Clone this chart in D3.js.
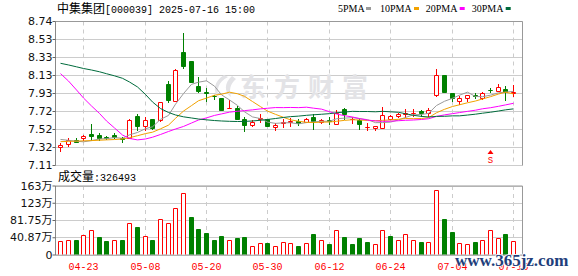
<!DOCTYPE html>
<meta charset="utf-8">
<script src="https://d3js.org/d3.v7.min.js"></script>
<style>
  body { margin: 0; background: #fff; }
  svg { display: block; }
</style>
<body>
<div id="vis"></div>
<script>
// trading days on the chart
var dates = ["04-18","04-21","04-22","04-23","04-24","04-25","04-28","04-29","04-30","05-06",
  "05-07","05-08","05-09","05-12","05-13","05-14","05-15","05-16","05-19","05-20",
  "05-21","05-22","05-23","05-26","05-27","05-28","05-29","05-30","06-03","06-04",
  "06-05","06-06","06-09","06-10","06-11","06-12","06-13","06-16","06-17","06-18",
  "06-19","06-20","06-23","06-24","06-25","06-26","06-27","06-30","07-01","07-02",
  "07-03","07-04","07-07","07-08","07-09","07-10","07-11","07-14","07-15","07-16"];

var opens = [7.315, 7.353, 7.391, 7.41, 7.466, 7.447, 7.429, 7.455, 7.41, 7.413,
  7.67, 7.557, 7.633, 7.625, 8.029, 7.837, 8.391, 8.285, 8.002, 7.934,
  7.896, 7.863, 7.755, 7.757, 7.636, 7.56, 7.636, 7.633, 7.538, 7.58,
  7.60, 7.606, 7.599, 7.651, 7.594, 7.614, 7.575, 7.74, 7.63, 7.625,
  7.54, 7.53, 7.53, 7.633, 7.67, 7.69, 7.697, 7.72, 7.70, 7.897,
  8.134, 7.927, 7.832, 7.863, 7.897, 7.871, 7.96, 7.95, 7.972, 7.92];
var highs = [7.365, 7.418, 7.425, 7.452, 7.58, 7.475, 7.447, 7.475, 7.43, 7.64,
  7.693, 7.66, 7.64, 7.829, 8.063, 8.206, 8.613, 8.296, 8.115, 7.984,
  7.908, 7.877, 7.853, 7.783, 7.662, 7.625, 7.69, 7.64, 7.587, 7.633,
  7.647, 7.633, 7.644, 7.69, 7.633, 7.654, 7.735, 7.765, 7.655, 7.645,
  7.588, 7.557, 7.775, 7.68, 7.708, 7.75, 7.75, 7.74, 7.758, 8.199,
  8.134, 7.934, 7.897, 7.904, 7.927, 7.945, 7.984, 8.029, 8.01, 8.02];
var lows = [7.26, 7.323, 7.361, 7.39, 7.39, 7.39, 7.40, 7.41, 7.37, 7.407,
  7.504, 7.504, 7.512, 7.602, 7.814, 7.829, 8.206, 8.04, 7.934, 7.832,
  7.851, 7.73, 7.75, 7.625, 7.493, 7.549, 7.594, 7.542, 7.50, 7.531,
  7.55, 7.557, 7.588, 7.512, 7.58, 7.568, 7.565, 7.625, 7.575, 7.512,
  7.50, 7.50, 7.52, 7.625, 7.652, 7.652, 7.662, 7.662, 7.662, 7.889,
  7.927, 7.832, 7.795, 7.829, 7.86, 7.85, 7.927, 7.942, 7.843, 7.89];
var closes = [7.335, 7.391, 7.368, 7.436, 7.44, 7.421, 7.41, 7.429, 7.40, 7.625,
  7.557, 7.625, 7.531, 7.821, 7.851, 8.191, 8.228, 8.052, 7.945, 7.927,
  7.889, 7.738, 7.76, 7.636, 7.568, 7.599, 7.644, 7.557, 7.568, 7.595,
  7.606, 7.58, 7.633, 7.606, 7.625, 7.61, 7.70, 7.683, 7.633, 7.576,
  7.543, 7.55, 7.68, 7.67, 7.692, 7.695, 7.70, 7.697, 7.73, 8.134,
  7.934, 7.868, 7.87, 7.897, 7.889, 7.927, 7.955, 7.995, 7.939, 7.934];

// moving averages as drawn
var ma5 = [7.405, 7.395, 7.385, 7.378, 7.392, 7.41, 7.414, 7.426, 7.418, 7.457,
  7.484, 7.527, 7.548, 7.632, 7.677, 7.804, 7.924, 8.029, 8.053, 8.069,
  8.008, 7.91, 7.852, 7.79, 7.718, 7.66, 7.641, 7.601, 7.587, 7.593,
  7.594, 7.581, 7.596, 7.604, 7.61, 7.611, 7.639, 7.646, 7.652, 7.641,
  7.629, 7.595, 7.596, 7.601, 7.626, 7.654, 7.684, 7.688, 7.70, 7.789,
  7.837, 7.871, 7.906, 7.94, 7.891, 7.889, 7.906, 7.933, 7.941, 7.949];
var ma10 = [7.38, 7.383, 7.386, 7.389, 7.392, 7.396, 7.40, 7.404, 7.41, 7.425,
  7.447, 7.471, 7.487, 7.525, 7.567, 7.644, 7.726, 7.788, 7.843, 7.873,
  7.906, 7.917, 7.94, 7.922, 7.893, 7.834, 7.776, 7.726, 7.689, 7.655,
  7.627, 7.611, 7.599, 7.596, 7.601, 7.602, 7.61, 7.621, 7.628, 7.625,
  7.62, 7.617, 7.621, 7.626, 7.633, 7.642, 7.64, 7.642, 7.651, 7.707,
  7.746, 7.778, 7.797, 7.82, 7.84, 7.863, 7.889, 7.919, 7.94, 7.92];
var ma20 = [8.15, 8.066, 7.965, 7.874, 7.784, 7.699, 7.614, 7.535, 7.455, 7.416,
  7.40, 7.41, 7.43, 7.461, 7.495, 7.523, 7.552, 7.591, 7.625, 7.649,
  7.677, 7.694, 7.714, 7.724, 7.731, 7.74, 7.751, 7.758, 7.766, 7.765,
  7.767, 7.765, 7.77, 7.759, 7.748, 7.719, 7.693, 7.674, 7.659, 7.641,
  7.624, 7.615, 7.61, 7.611, 7.617, 7.622, 7.625, 7.631, 7.639, 7.666,
  7.683, 7.697, 7.709, 7.723, 7.736, 7.752, 7.764, 7.78, 7.796, 7.814];
var ma30 = [8.267, 8.248, 8.227, 8.208, 8.191, 8.171, 8.149, 8.125, 8.097, 8.055,
  7.999, 7.914, 7.829, 7.755, 7.71, 7.682, 7.661, 7.648, 7.636, 7.627,
  7.619, 7.614, 7.61, 7.608, 7.609, 7.614, 7.622, 7.631, 7.642, 7.654,
  7.663, 7.669, 7.678, 7.684, 7.69, 7.697, 7.707, 7.715, 7.723, 7.721,
  7.721, 7.718, 7.723, 7.718, 7.712, 7.696, 7.678, 7.666, 7.659, 7.666,
  7.667, 7.672, 7.672, 7.681, 7.691, 7.702, 7.713, 7.727, 7.74, 7.751];

// volume (shares) and whether the bar is an up bar
var volumes = [315000, 355000, 340000, 467000, 585000, 403000, 315000, 332000, 340000, 735000,
  640000, 450000, 340000, 830000, 735000, 1110000, 1460000, 900000, 616000, 498000,
  332000, 450000, 355000, 380000, 403000, 213000, 284000, 284000, 213000, 308000,
  284000, 213000, 284000, 474000, 332000, 260000, 569000, 403000, 260000, 380000,
  308000, 237000, 569000, 450000, 355000, 474000, 355000, 308000, 308000, 1517000,
  853000, 528000, 284000, 260000, 308000, 332000, 569000, 380000, 474000, 326493];
var volUp = [1,1,0,1,1,0,0,1,0,1, 0,1,0,1,1,1,1,0,0,0, 0,0,1,0,0,1,1,0,1,1,
  1,0,1,0,1,0,1,0,0,0, 0,1,1,0,1,1,1,0,1,1, 0,0,1,1,0,1,1,1,0,1];

var priceTicks = [7.11, 7.31375, 7.5175, 7.72125, 7.925, 8.12875, 8.3325, 8.53625, 8.74];
var priceLabels = ["7.11", "7.32", "7.52", "7.72", "7.93", "8.13", "8.33", "8.53", "8.74"];
var volTicks = [0, 408750, 817500, 1226250, 1635000];
var volLabels = ["0", "40.87万", "81.75万", "123万", "163万"];
var dateTicks = ["04-23", "05-08", "05-20", "05-30", "06-12", "06-24", "07-04", "07-16"];
var maNames = ["5PMA", "10PMA", "20PMA", "30PMA"];
var signalDate = "07-11";

var red = "#ff0000", green = "#008000";
var maColors = ["#9a9a9a", "#f2a200", "#ff00ff", "#006b3c"];

var width = 578, height = 276;
var left = 55.5, right = 522.5;
var pTop = 21.5, pBottom = 165.5, vTop = 186, vBottom = 255;

var svg = d3.select("#vis").append("svg")
  .attr("width", width)
  .attr("height", height);

var x = d3.scaleBand().domain(dates).range([56.5, 516.7]).paddingInner(0.35).paddingOuter(0.175);
var cx = function(d) { return Math.round(x(d) + x.bandwidth() / 2); };
var y = d3.scaleLinear().domain([7.11, 8.74]).range([pBottom, pTop]);
var yv = d3.scaleLinear().domain([0, 1635000]).range([vBottom, vTop]);
var idx = d3.range(dates.length);

// horizontal grid
svg.append("g").selectAll("line").data(priceTicks).enter().append("line")
  .attr("x1", left).attr("x2", right)
  .attr("y1", function(d) { return Math.round(y(d) - 0.5) + 0.5; })
  .attr("y2", function(d) { return Math.round(y(d) - 0.5) + 0.5; })
  .attr("stroke", "#cccccc");
svg.append("g").selectAll("line").data(volTicks).enter().append("line")
  .attr("x1", left).attr("x2", right)
  .attr("y1", function(d) { return Math.round(yv(d) - 0.5) + 0.5; })
  .attr("y2", function(d) { return Math.round(yv(d) - 0.5) + 0.5; })
  .attr("stroke", "#cccccc");

// vertical dashed grid
[[pTop, pBottom], [vTop, vBottom]].forEach(function(r) {
  svg.append("g").selectAll("line").data(dateTicks).enter().append("line")
    .attr("x1", function(d) { return cx(d) + 0.5; })
    .attr("x2", function(d) { return cx(d) + 0.5; })
    .attr("y1", r[0]).attr("y2", r[1])
    .attr("stroke", "#cccccc")
    .style("stroke-dasharray", "4,4");
});

// frames
var frame = svg.append("g").attr("stroke", "#999999").attr("fill", "none");
frame.append("path").attr("d", "M" + left + "," + pTop + "H" + right + "V" + pBottom);
frame.append("path").attr("d", "M" + left + "," + vTop + "H" + right + "V" + vBottom + "H" + left);

// watermark
var wm = svg.append("g").attr("fill", "#e3e3e6");
wm.append("path").attr("d", "M224,75 C214,81 212,92 219,98 C216,90 218,82 228,77 Z");
wm.append("path").attr("d", "M232,76 C224,83 224,92 231,97 C229,90 230,84 236,79 Z");
wm.append("text")
  .attr("x", 240).attr("y", 97)
  .attr("font-family", "Noto Sans CJK SC")
  .attr("font-weight", "bold")
  .attr("font-size", "26px")
  .attr("letter-spacing", "8px")
  .text("东方财富");

// candles
var bodyPath = function(xc, a, b) {
  var t = Math.round(y(Math.max(a, b)) - 0.5) + 0.5;
  var bt = Math.round(y(Math.min(a, b)) - 0.5) + 0.5;
  return "M" + (xc - 1.5) + "," + t + "H" + (xc + 2.5) + "V" + bt + "H" + (xc - 1.5) + "Z";
};
var candles = svg.append("g").selectAll("g").data(idx).enter().append("g");
candles.append("line")
  .attr("x1", function(i) { return cx(dates[i]) + 0.5; })
  .attr("x2", function(i) { return cx(dates[i]) + 0.5; })
  .attr("y1", function(i) { return Math.round(y(highs[i])); })
  .attr("y2", function(i) { return Math.round(y(lows[i])); })
  .attr("stroke", function(i) { return closes[i] >= opens[i] ? red : green; });
candles.append("path")
  .attr("d", function(i) { return bodyPath(cx(dates[i]), opens[i], closes[i]); })
  .attr("fill", function(i) { return closes[i] >= opens[i] ? "#ffffff" : green; })
  .attr("stroke", function(i) { return closes[i] >= opens[i] ? red : green; });

// moving averages
[ma5, ma10, ma20, ma30].forEach(function(s, k) {
  svg.append("path")
    .datum(s)
    .attr("fill", "none")
    .attr("stroke", maColors[k])
    .attr("stroke-width", 1)
    .attr("d", d3.line()
      .x(function(d, i) { return cx(dates[i]) + 0.5; })
      .y(function(d) { return y(d); }));
});

// signal marker
var sx = cx(signalDate) + 0.5;
svg.append("path").attr("d", "M" + sx + ",150 l-3,4 h6 z").attr("fill", red);
svg.append("text")
  .attr("x", sx).attr("y", 163)
  .attr("text-anchor", "middle")
  .attr("font-family", "Liberation Mono")
  .attr("font-size", "9px")
  .attr("fill", red)
  .text("S");

// volume bars
svg.append("g").selectAll("path").data(idx).enter().append("path")
  .attr("d", function(i) {
    var xc = cx(dates[i]);
    var t = Math.round(yv(volumes[i]) - 0.5) + 0.5;
    return "M" + (xc - 1.5) + "," + (vBottom - 0.5) + "V" + t + "H" + (xc + 2.5) + "V" + (vBottom - 0.5);
  })
  .attr("fill", function(i) { return volUp[i] ? "#ffffff" : green; })
  .attr("stroke", function(i) { return volUp[i] ? red : green; });

// axes
var priceAxis = svg.append("g")
  .attr("transform", "translate(" + left + ",0)")
  .call(d3.axisLeft(y).tickValues(priceTicks)
    .tickFormat(function(d, i) { return priceLabels[i]; })
    .tickSize(3).tickSizeOuter(0).tickPadding(0).offset(0));
var volAxis = svg.append("g")
  .attr("transform", "translate(" + left + ",0)")
  .call(d3.axisLeft(yv).tickValues(volTicks)
    .tickFormat(function(d, i) { return volLabels[i]; })
    .tickSize(3).tickSizeOuter(0).tickPadding(0).offset(0));
[priceAxis, volAxis].forEach(function(a) {
  a.select(".domain").attr("stroke", "#888888");
  a.selectAll(".tick line").attr("stroke", "#666666");
  a.selectAll(".tick text")
    .attr("fill", "#111111")
    .attr("font-family", "DejaVu Sans, Noto Sans CJK SC")
    .attr("font-size", "11px");
});

// date labels
svg.append("g").selectAll("text").data(dateTicks).enter().append("text")
  .attr("x", function(d) { return cx(d) + 0.5; })
  .attr("y", 269.5)
  .attr("text-anchor", "middle")
  .attr("font-family", "Liberation Mono")
  .attr("font-size", "10px")
  .attr("fill", red)
  .text(function(d) { return d; });

// title
var title = svg.append("text").attr("x", 57).attr("y", 12.5).attr("fill", "#000");
title.append("tspan").attr("font-family", "Noto Sans CJK SC").attr("font-size", "12px").text("中集集团");
title.append("tspan").attr("font-family", "Liberation Mono").attr("font-size", "10px").text("[000039] 2025-07-16 15:00");

var volTitle = svg.append("text").attr("x", 58).attr("y", 181).attr("fill", "#000");
volTitle.append("tspan").attr("font-family", "Noto Sans CJK SC").attr("font-size", "12px").text("成交量");
volTitle.append("tspan").attr("font-family", "Liberation Mono").attr("font-size", "10px").text(":" + volumes[volumes.length - 1]);

// legend
var legX = [338, 380, 425.7, 471.7];
var legend = svg.append("g").selectAll("g").data(maNames).enter().append("g");
legend.append("text")
  .attr("x", function(d, i) { return legX[i]; })
  .attr("y", 12)
  .attr("font-family", "Liberation Serif")
  .attr("font-size", "10px")
  .attr("fill", "#000")
  .text(function(d) { return d; });
legend.append("rect")
  .attr("x", function(d, i) { return legX[i] + d.length * 6 + 4; })
  .attr("y", 7).attr("width", 5).attr("height", 3)
  .attr("fill", function(d, i) { return maColors[i]; });

// site watermark
svg.append("text")
  .attr("x", 455).attr("y", 266)
  .attr("font-family", "Liberation Serif")
  .attr("font-weight", "bold")
  .attr("font-size", "17px")
  .attr("fill", "#1f3f7c")
  .attr("stroke", "#ffffff")
  .attr("stroke-width", 1.5)
  .style("paint-order", "stroke")
  .text("www.365jz.com");
</script>
